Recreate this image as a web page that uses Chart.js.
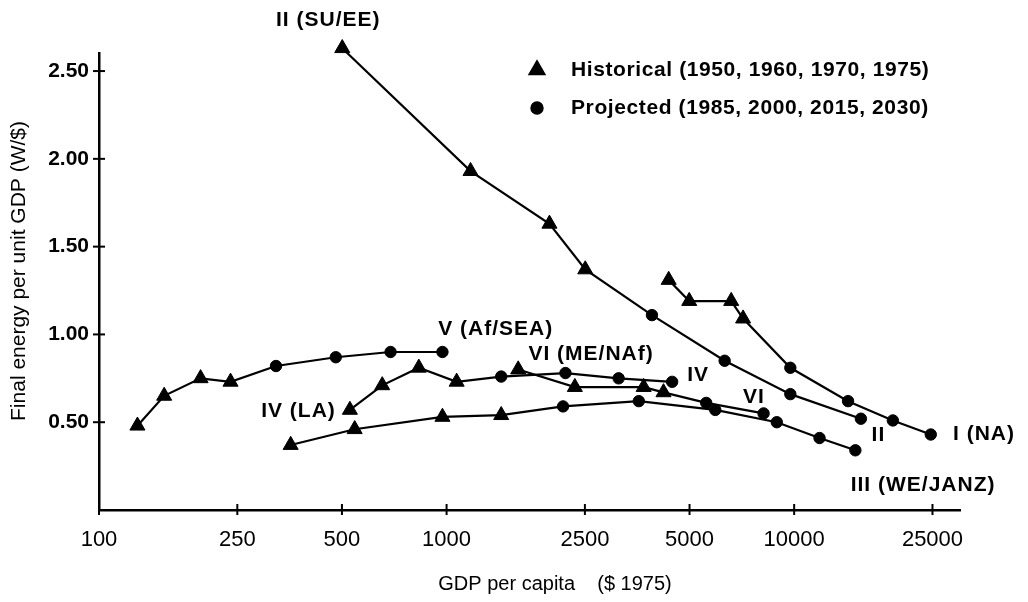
<!DOCTYPE html>
<html><head><meta charset="utf-8">
<script src="https://cdn.jsdelivr.net/npm/chart.js@4/dist/chart.umd.min.js"></script>
<style>html,body{margin:0;padding:0;background:#fff}#wrap{width:1028px;height:602px;position:relative}</style>
</head><body><div id="wrap"><canvas id="c"></canvas></div>
<script>
// ---- data (GDP per capita in $1975, final energy per unit GDP in W/$) ----
const gdpI   = [4355, 4990, 6590, 7130, 9750, 14290, 19230, 24720];
const enI    = [1.31, 1.19, 1.19, 1.09, 0.81, 0.62, 0.51, 0.43];
const gdpII  = [501, 1172, 1977, 2506, 3898, 6310, 9750, 15560];
const enII   = [2.63, 1.93, 1.63, 1.37, 1.11, 0.85, 0.66, 0.52];
const gdpIII = [356, 544, 973, 1436, 2163, 3573, 5930, 8913, 11830, 15000];
const enIII  = [0.37, 0.46, 0.53, 0.54, 0.59, 0.62, 0.57, 0.50, 0.41, 0.34];
const gdpIV  = [527, 653, 832, 1069, 1436, 2198, 3126, 4456];
const enIV   = [0.57, 0.71, 0.81, 0.73, 0.76, 0.78, 0.75, 0.73];
const gdpV   = [129, 154, 196, 239, 323, 480, 690, 973];
const enV    = [0.48, 0.65, 0.75, 0.73, 0.82, 0.87, 0.90, 0.90];
const gdpVI  = [1607, 2339, 3690, 4208, 5585, 8166];
const enVI   = [0.80, 0.70, 0.70, 0.67, 0.61, 0.55];
const historicalCount = 4; // first points of each series are historical (triangles)

const xTickValues = [100, 250, 500, 1000, 2500, 5000, 10000, 25000];
const yTickValues = [0.5, 1.0, 1.5, 2.0, 2.5];

const regionLabels = [
  {text: 'II (SU/EE)',    x: 323,   y: 2.79, align: 'left'},
  {text: 'V (Af/SEA)',    x: 946,   y: 1.03, align: 'left'},
  {text: 'VI (ME/NAf)',   x: 1720,  y: 0.89, align: 'left'},
  {text: 'IV (LA)',       x: 480,   y: 0.563, align: 'right'},
  {text: 'IV',            x: 4925,  y: 0.77, align: 'left'},
  {text: 'VI',            x: 7127,  y: 0.64, align: 'left'},
  {text: 'II',            x: 16700, y: 0.426, align: 'left'},
  {text: 'I (NA)',        x: 28640, y: 0.43, align: 'left'},
  {text: 'III (WE/JANZ)', x: 14540, y: 0.14, align: 'left'}
];
const legendItems = [
  {style: 'triangle', text: 'Historical (1950, 1960, 1970, 1975)'},
  {style: 'circle',   text: 'Projected (1985, 2000, 2015, 2030)'}
];
const xTitle = 'GDP per capita    ($ 1975)';
const yTitle = 'Final energy per unit GDP (W/$)';

// ---- build datasets ----
const series = [
  ['I (NA)', gdpI, enI], ['II (SU/EE)', gdpII, enII], ['III (WE/JANZ)', gdpIII, enIII],
  ['IV (LA)', gdpIV, enIV], ['V (Af/SEA)', gdpV, enV], ['VI (ME/NAf)', gdpVI, enVI]
];
const TRI_R = 8.7, DOT_R = 5.7;
const datasets = series.map(([name, xs, ys]) => ({
  label: name,
  data: xs.map((x, i) => ({x: x, y: ys[i]})),
  borderColor: '#000', backgroundColor: '#000', borderWidth: 2.2,
  pointStyle: xs.map((x, i) => i < historicalCount ? 'triangle' : 'circle'),
  pointRadius: xs.map((x, i) => i < historicalCount ? TRI_R : DOT_R),
  pointBorderWidth: 1, pointBackgroundColor: '#000', pointBorderColor: '#000',
  tension: 0, clip: false
}));

const FONT = "'Liberation Sans', Arial, sans-serif";

const decor = {
  id: 'decor',
  afterDraw(chart) {
    const ctx = chart.ctx, xs = chart.scales.x, ys = chart.scales.y, ca = chart.chartArea;
    ctx.save();
    ctx.strokeStyle = '#000'; ctx.lineWidth = 2;
    yTickValues.forEach(v => { const p = ys.getPixelForValue(v); ctx.beginPath(); ctx.moveTo(ca.left - 6, p); ctx.lineTo(ca.left + 6, p); ctx.stroke(); });
    xTickValues.forEach(v => { const p = xs.getPixelForValue(v); ctx.beginPath(); ctx.moveTo(p, ca.bottom - 6); ctx.lineTo(p, ca.bottom + 5); ctx.stroke(); });
    // region labels
    ctx.fillStyle = '#000';
    ctx.font = "bold 21px " + FONT;
    ctx.textBaseline = 'middle';
    try { ctx.letterSpacing = '1px'; } catch (e) {}
    regionLabels.forEach(l => {
      ctx.textAlign = l.align;
      ctx.fillText(l.text, xs.getPixelForValue(l.x), ys.getPixelForValue(l.y));
    });
    // legend
    ctx.textAlign = 'left';
    ctx.letterSpacing = '0.6px';
    legendItems.forEach((it, i) => {
      const y = 70 + i * 38;
      Chart.helpers.drawPoint(ctx, {pointStyle: it.style, radius: it.style === 'triangle' ? TRI_R : DOT_R, borderWidth: 1}, 537, y);
      ctx.fill();
      ctx.fillText(it.text, 571, y);
    });
    // axis titles
    ctx.letterSpacing = '0px';
    ctx.font = "20px " + FONT;
    ctx.textAlign = 'center';
    ctx.fillText(xTitle, 555, 584);
    ctx.font = "21px " + FONT;
    ctx.translate(19, 271); ctx.rotate(-Math.PI / 2);
    ctx.fillText(yTitle, 0, 0);
    ctx.restore();
  }
};

new Chart(document.getElementById('c'), {
  type: 'line',
  data: {datasets},
  options: {
    responsive: true, maintainAspectRatio: false, animation: false,
    layout: {padding: {left: 0, top: 53.5, right: 68, bottom: 0}},
    plugins: {legend: {display: false}, tooltip: {enabled: false}},
    scales: {
      x: {
        type: 'logarithmic', min: 100, max: 30000,
        afterBuildTicks: s => { s.ticks = xTickValues.map(v => ({value: v})); },
        afterFit: s => { s.height = 92; },
        ticks: {autoSkip: false, maxRotation: 0, color: '#000', padding: 17,
                font: {family: FONT, size: 22},
                callback: v => String(v)},
        grid: {drawOnChartArea: false, drawTicks: false},
        border: {display: true, color: '#000', width: 2.5}
      },
      y: {
        type: 'linear', min: 0, max: 2.6,
        afterBuildTicks: s => { s.ticks = yTickValues.map(v => ({value: v})); },
        afterFit: s => { s.width = 99; },
        ticks: {color: '#000', padding: 10, font: {family: FONT, size: 21, weight: 'bold'},
                callback: v => Number(v).toFixed(2)},
        grid: {drawOnChartArea: false, drawTicks: false},
        border: {display: true, color: '#000', width: 2.5}
      }
    }
  },
  plugins: [decor]
});
</script></body></html>
